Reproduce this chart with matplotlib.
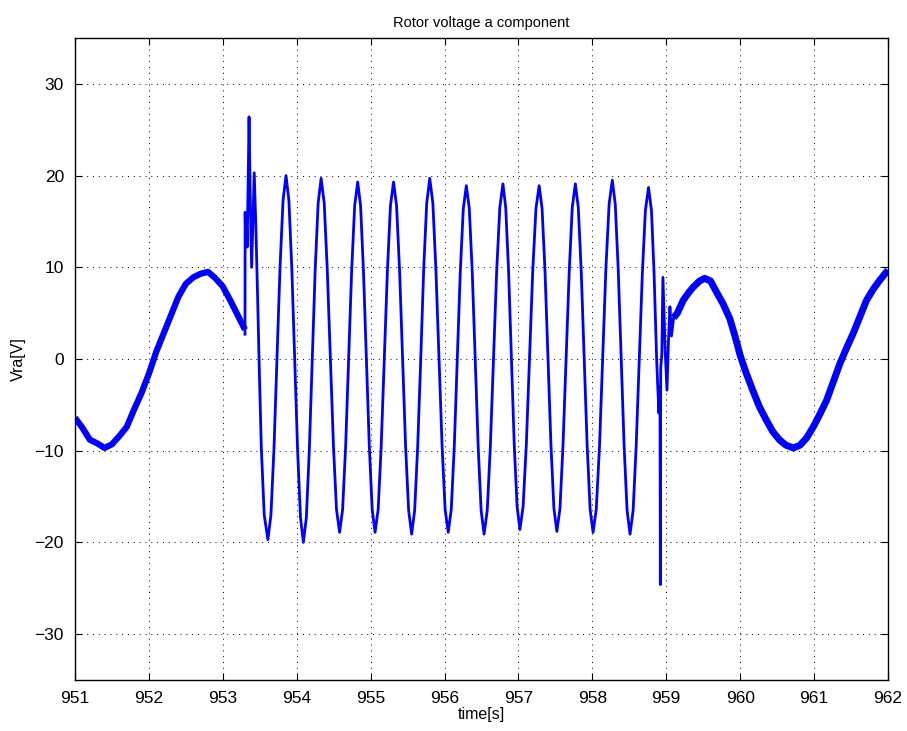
import matplotlib
matplotlib.use("Agg")
import matplotlib.pyplot as plt

plt.rcParams['font.family'] = ['Liberation Sans', 'DejaVu Sans']

# rotor voltage before the step (slow slip-frequency wave)
t_pre = [951.0, 951.1, 951.2, 951.3, 951.4, 951.5, 951.6, 951.7, 951.8, 951.9,
         952.0, 952.1, 952.2, 952.3, 952.4, 952.5, 952.6, 952.7, 952.8, 952.9,
         953.0, 953.1, 953.2, 953.3]
v_pre = [-6.4, -7.5, -8.8, -9.2, -9.7, -9.3, -8.4, -7.4, -5.5, -3.7,
         -1.6, 0.8, 2.8, 4.8, 6.8, 8.2, 8.9, 9.3, 9.5, 8.8,
         7.9, 6.4, 4.8, 3.2]

# transient + fast oscillation between 953.3 s and 959.1 s
t_fast = [953.3, 953.302, 953.31, 953.318, 953.33, 953.355, 953.37, 953.39, 953.41, 953.425,
          953.445, 953.47, 953.49, 953.52, 953.56, 953.61,
          953.651, 953.692, 953.733, 953.774, 953.815, 953.855,
          953.894, 953.933, 953.973, 954.012, 954.051, 954.09,
          954.13, 954.17, 954.21, 954.25, 954.29, 954.33,
          954.372, 954.413, 954.455, 954.497, 954.538, 954.58,
          954.621, 954.662, 954.703, 954.743, 954.784, 954.825,
          954.864, 954.903, 954.943, 954.982, 955.021, 955.06,
          955.102, 955.143, 955.185, 955.227, 955.268, 955.31,
          955.351, 955.392, 955.433, 955.473, 955.514, 955.555,
          955.596, 955.637, 955.678, 955.718, 955.759, 955.80,
          955.842, 955.883, 955.925, 955.967, 956.008, 956.05,
          956.091, 956.132, 956.173, 956.213, 956.254, 956.295,
          956.335, 956.375, 956.415, 956.455, 956.495, 956.535,
          956.578, 956.62, 956.663, 956.705, 956.748, 956.79,
          956.828, 956.867, 956.905, 956.943, 956.982, 957.02,
          957.063, 957.107, 957.15, 957.193, 957.237, 957.28,
          957.32, 957.36, 957.40, 957.44, 957.48, 957.52,
          957.562, 957.603, 957.645, 957.687, 957.728, 957.77,
          957.81, 957.85, 957.89, 957.93, 957.97, 958.01,
          958.053, 958.097, 958.14, 958.183, 958.227, 958.27,
          958.31, 958.35, 958.39, 958.43, 958.47, 958.51,
          958.552, 958.593, 958.635, 958.677, 958.718, 958.76,
          958.80, 958.835, 958.87, 958.90, 958.915, 958.92, 958.925, 958.94,
          958.955, 958.985, 959.01, 959.03, 959.05, 959.07, 959.10]
v_fast = [2.7, 16.0, 12.5, 15.5, 12.2, 26.4, 18.0, 10.0, 16.0, 20.3,
          15.0, 7.0, 0.0, -9.5, -17.0, -19.7,
          -17.0, -9.8, 0.0, 10.0, 17.3, 20.0,
          17.3, 10.0, 0.0, -10.0, -17.3, -20.0,
          -17.3, -10.0, 0.0, 9.8, 17.0, 19.7,
          17.0, 9.8, 0.0, -9.5, -16.4, -18.9,
          -16.4, -9.5, 0.0, 9.6, 16.7, 19.3,
          16.7, 9.6, 0.0, -9.5, -16.4, -18.9,
          -16.4, -9.5, 0.0, 9.6, 16.7, 19.3,
          16.7, 9.6, 0.0, -9.5, -16.5, -19.1,
          -16.5, -9.5, 0.0, 9.8, 17.0, 19.7,
          17.0, 9.8, 0.0, -9.5, -16.4, -18.9,
          -16.4, -9.5, 0.0, 9.5, 16.4, 18.9,
          16.4, 9.5, 0.0, -9.5, -16.5, -19.1,
          -16.5, -9.5, 0.0, 9.5, 16.5, 19.1,
          16.5, 9.5, 0.0, -9.3, -16.1, -18.6,
          -16.1, -9.3, 0.0, 9.5, 16.4, 18.9,
          16.4, 9.5, 0.0, -9.4, -16.3, -18.8,
          -16.3, -9.4, 0.0, 9.5, 16.5, 19.1,
          16.5, 9.5, 0.0, -9.5, -16.4, -18.9,
          -16.4, -9.5, 0.0, 9.8, 16.9, 19.5,
          16.9, 9.8, 0.0, -9.5, -16.5, -19.1,
          -16.5, -9.5, 0.0, 9.4, 16.2, 18.7,
          16.2, 9.4, 0.0, -5.9, -3.0, -24.6, -1.0, 0.5,
          8.9, 1.0, -3.4, 2.0, 5.7, 2.5, 4.5]

# after the step: back to the slow wave
t_post = [959.10, 959.15, 959.23, 959.30, 959.36, 959.45, 959.52, 959.60, 959.68, 959.77,
          959.86, 959.93, 960.0, 960.08, 960.17, 960.26, 960.35, 960.44, 960.53, 960.62,
          960.72, 960.81, 960.90, 960.99, 961.08, 961.17, 961.26, 961.35, 961.44, 961.53,
          961.62, 961.71, 961.80, 961.89, 962.0]
v_post = [4.5, 5.0, 6.4, 7.2, 7.8, 8.5, 8.8, 8.5, 7.3, 6.0,
          4.4, 2.5, 0.4, -1.5, -3.4, -5.2, -6.6, -7.9, -8.8, -9.4,
          -9.7, -9.4, -8.6, -7.4, -6.0, -4.5, -2.5, -0.5, 1.2, 2.8,
          4.6, 6.4, 7.6, 8.6, 9.7]

fig = plt.figure(figsize=(9.07, 7.31), dpi=100)
ax = fig.add_axes([0.0827, 0.0698, 0.8963, 0.8782])

ax.plot(t_fast, v_fast, color='#0000ff', lw=2.0, solid_joinstyle='round')
ax.plot(t_pre, v_pre, color='#0000ff', lw=4.5, solid_capstyle='butt')
ax.plot(t_post, v_post, color='#0000ff', lw=5.0, solid_capstyle='butt')

ax.set_xlim(951, 962)
ax.set_ylim(-35, 35)
ax.set_xticks(range(951, 963))
ax.set_yticks([-30, -20, -10, 0, 10, 20, 30])
ax.grid(True, color='black', linestyle=(0, (1, 5)), linewidth=0.7)
ax.tick_params(direction='in', top=True, right=True, length=5, labelsize=12.5, pad=8)
for s in ax.spines.values():
    s.set_linewidth(1.0)

ax.set_title('Rotor voltage a component', fontsize=10.5, pad=8)
ax.set_xlabel('time[s]', fontsize=11.5, labelpad=1)
ax.set_ylabel('Vra[V]', fontsize=11.5, labelpad=6)

fig.savefig('out.png', dpi=100)
